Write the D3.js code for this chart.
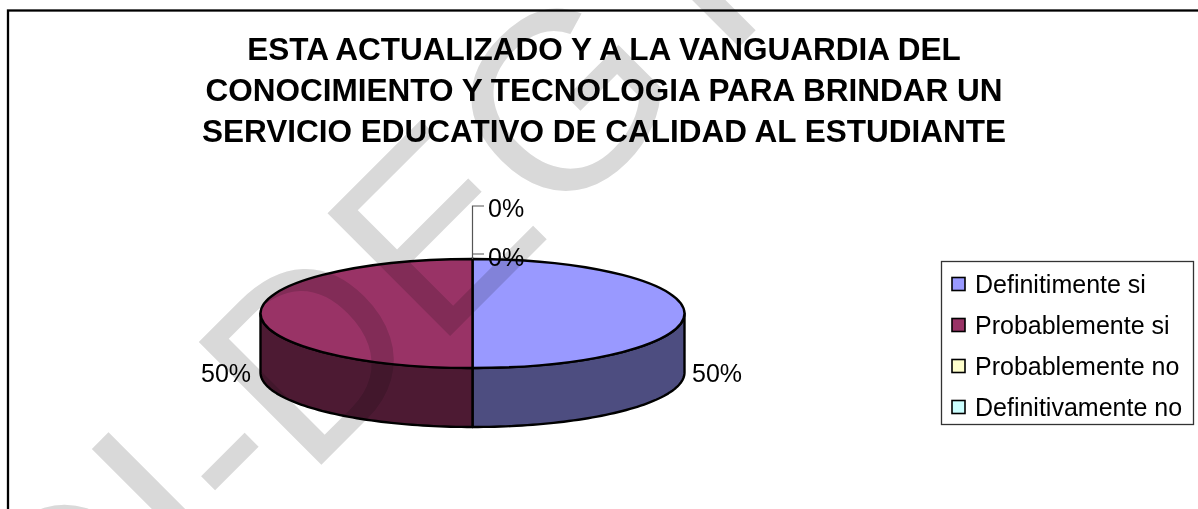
<!DOCTYPE html>
<html>
<head>
<meta charset="utf-8">
<script src="https://cdn.jsdelivr.net/npm/d3@7"></script>
<style>
  html, body { margin: 0; padding: 0; background: #fff; overflow: hidden; }
  text { font-family: "Liberation Sans", Arial, sans-serif; fill: #000; }
</style>
</head>
<body>
<div id="chart"></div>
<script>
const categories = ["Definitimente si", "Probablemente si", "Probablemente no", "Definitivamente no"];
const values = [50, 50, 0, 0];
const topColors = ["#9999ff", "#993366", "#ffffcc", "#ccffff"];
const sideColors = ["#4d4d80", "#4d1a33", "#80806a", "#6a8080"];
const titleLines = [
    "ESTA ACTUALIZADO Y A LA VANGUARDIA DEL",
    "CONOCIMIENTO Y TECNOLOGIA PARA BRINDAR UN",
    "SERVICIO EDUCATIVO DE CALIDAD AL ESTUDIANTE"
];
const watermarkHead = "O";
const watermarkTail = "I-DEGT";

const width = 1198, height = 509;
const cx = 472.5, cy = 313.5, rx = 212, ry = 54.5, depth = 59;

const svg = d3.select("#chart").append("svg")
    .attr("width", width)
    .attr("height", height)
    .style("display", "block");

// outer frame runs off the right and bottom of the picture
svg.append("rect")
    .attr("x", 8).attr("y", 10.5)
    .attr("width", 1300).attr("height", 700)
    .attr("fill", "none").attr("stroke", "#000").attr("stroke-width", 2.3);

// title
svg.append("g").selectAll("text")
    .data(titleLines)
    .enter().append("text")
    .attr("x", 604)
    .attr("y", (d, i) => 60 + i * 41)
    .attr("text-anchor", "middle")
    .attr("font-size", 31.5)
    .attr("font-weight", "bold")
    .text(d => d);

const pie = d3.pie().sort(null).value(d => d)(values);

// ellipse point for a clockwise-from-top angle
const px = a => cx + rx * Math.sin(a);
const py = a => cy - ry * Math.cos(a);

const line = d3.line().x(d => d[0]).y(d => d[1]);
const steps = d3.range(0, 61).map(i => i / 60);

// side wall, only the front half of the ellipse shows
pie.forEach(s => {
    const a0 = Math.max(s.startAngle, Math.PI / 2);
    const a1 = Math.min(s.endAngle, Math.PI * 1.5);
    if (a1 <= a0) return;
    const angles = steps.map(t => a0 + (a1 - a0) * t);
    const pts = angles.map(a => [px(a), py(a)])
        .concat(angles.slice().reverse().map(a => [px(a), py(a) + depth]));
    svg.append("path")
        .attr("d", line(pts) + "Z")
        .attr("fill", sideColors[s.index])
        .attr("stroke", "#000")
        .attr("stroke-width", 2.4)
        .attr("stroke-linejoin", "round");
});

// top face
const arc = d3.arc().innerRadius(0).outerRadius(rx);
svg.append("g")
    .attr("transform", `translate(${cx},${cy}) scale(1,${ry / rx})`)
    .selectAll("path")
    .data(pie.filter(d => d.value > 0))
    .enter().append("path")
    .attr("d", arc)
    .attr("fill", d => topColors[d.index])
    .attr("stroke", "#000")
    .attr("stroke-width", 2.4)
    .attr("vector-effect", "non-scaling-stroke");

// leader lines for the two 0% slices
svg.append("path")
    .attr("d", `M${cx},259V206H484M${cx},254H484`)
    .attr("fill", "none")
    .attr("stroke", "#555")
    .attr("stroke-width", 1.2);

// data labels
const labelPos = [[692, 382], [201, 382], [488, 266], [488, 217]];
svg.append("g").selectAll("text")
    .data(pie)
    .enter().append("text")
    .attr("x", (d, i) => labelPos[i][0])
    .attr("y", (d, i) => labelPos[i][1])
    .attr("font-size", 25)
    .text(d => d3.format(".0%")(d.value / d3.sum(values)));

// legend
const legend = svg.append("g");
legend.append("rect")
    .attr("x", 941.5).attr("y", 261.5)
    .attr("width", 252).attr("height", 163)
    .attr("fill", "#fff").attr("stroke", "#333").attr("stroke-width", 1.3);

const rows = legend.selectAll("g.row")
    .data(categories)
    .enter().append("g")
    .attr("class", "row")
    .attr("transform", (d, i) => `translate(952,${284 + i * 41})`);

rows.append("rect")
    .attr("x", 0).attr("y", -6.5)
    .attr("width", 13).attr("height", 13)
    .attr("fill", (d, i) => topColors[i])
    .attr("stroke", "#000")
    .attr("stroke-width", 1.6);

rows.append("text")
    .attr("x", 23)
    .attr("y", 8.5)
    .attr("font-size", 25)
    .text(d => d);

// grey stamp across the whole page, multiplied so the chart shows through
const stamp = svg.append("g")
    .attr("transform", "translate(198,588) rotate(-45)")
    .attr("font-size", 252)
    .style("mix-blend-mode", "multiply");
stamp.append("text")
    .attr("text-anchor", "end")
    .style("fill", "#d9d9d9")
    .text(watermarkHead);
stamp.append("text")
    .style("fill", "#d9d9d9")
    .text(watermarkTail);
</script>
</body>
</html>
